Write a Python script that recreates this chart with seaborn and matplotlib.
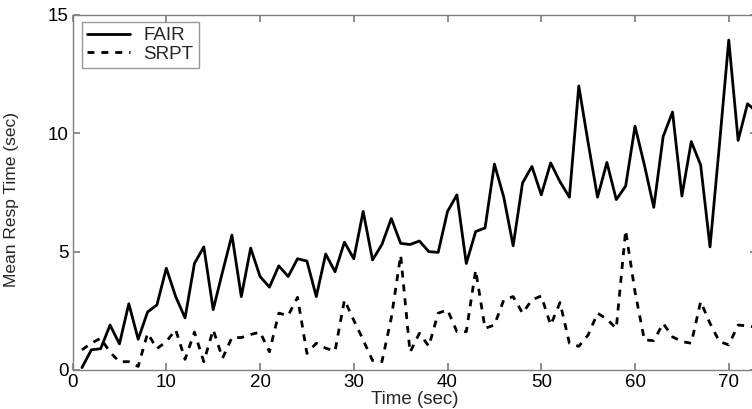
import numpy as np
import pandas as pd
import matplotlib
matplotlib.use("Agg")
import matplotlib.pyplot as plt
import seaborn as sns

# tiempos (s) y tiempos medios de respuesta
tiempo = list(range(1, 74))
fair = [0.1, 0.85, 0.9, 1.9, 1.1, 2.8, 1.3, 2.45, 2.75, 4.3,
        3.1, 2.2, 4.5, 5.2, 2.55, 4.15, 5.7, 3.1, 5.15, 3.95,
        3.5, 4.4, 3.95, 4.7, 4.6, 3.1, 4.9, 4.15, 5.4, 4.7,
        6.7, 4.65, 5.3, 6.4, 5.35, 5.3, 5.45, 5.0, 4.97, 6.7,
        7.4, 4.5, 5.85, 6.0, 8.7, 7.3, 5.25, 7.9, 8.6, 7.4,
        8.75, 7.95, 7.3, 12.0, 9.6, 7.3, 8.77, 7.2, 7.77, 10.3,
        8.66, 6.87, 9.86, 10.9, 7.35, 9.65, 8.66, 5.2, 9.5, 13.94,
        9.7, 11.25, 10.9]
srpt = [0.85, 1.13, 1.34, 0.75, 0.35, 0.35, 0.15, 1.55, 0.9, 1.2,
        1.7, 0.45, 1.6, 0.35, 1.7, 0.5, 1.37, 1.37, 1.5, 1.6,
        0.77, 2.4, 2.3, 3.07, 0.7, 1.13, 0.92, 0.8, 2.96, 2.1,
        1.27, 0.4, 0.35, 2.2, 4.85, 0.75, 1.55, 1.0, 2.4, 2.54,
        1.62, 1.62, 4.22, 1.76, 1.9, 2.96, 3.1, 2.4, 2.96, 3.13,
        1.9, 2.85, 1.13, 1.0, 1.48, 2.4, 2.15, 1.76, 5.9, 3.3,
        1.27, 1.24, 1.97, 1.4, 1.2, 1.13, 2.89, 1.97, 1.2, 1.06,
        1.9, 1.86, 1.8]

df = pd.DataFrame({
    "Tiempo": tiempo * 2,
    "Resp": fair + srpt,
    "Politica": ["FAIR"] * len(fair) + ["SRPT"] * len(srpt),
})

sns.set_theme(style="ticks")
plt.rcParams["font.family"] = ["Liberation Sans", "DejaVu Sans"]

fig = plt.figure(figsize=(7.52, 4.09), dpi=100)
ax = fig.add_axes([0.0965, 0.0954, 0.910, 0.868])

sns.lineplot(
    data=df, x="Tiempo", y="Resp", style="Politica",
    dashes={"FAIR": "", "SRPT": (2.5, 2.5)},
    color="black", linewidth=2, ax=ax,
)

ax.set_xlim(0, 73)
ax.set_ylim(0, 15)
ax.set_xticks(range(0, 80, 10))
ax.set_yticks([0, 5, 10, 15])

for s in ax.spines.values():
    s.set_color("#808080")
    s.set_linewidth(1)
ax.tick_params(direction="in", length=5, top=True, right=True,
               labelsize=13.5, pad=3, color="#808080", labelcolor="black")

ax.set_xlabel("Time (sec)", fontsize=13.5, labelpad=0)
ax.set_ylabel("Mean Resp Time (sec)", fontsize=12.5)
ax.yaxis.set_label_coords(-0.078, 0.48)

leg = ax.legend(loc="upper left", bbox_to_anchor=(0.0133, 0.981),
                fontsize=13.5, frameon=True, fancybox=False,
                handlelength=2.3, handletextpad=0.7, labelspacing=0.05,
                borderpad=0.3, borderaxespad=0)
leg.get_frame().set_edgecolor("#808080")
leg.get_frame().set_linewidth(1)

fig.savefig("out.png", dpi=100)
